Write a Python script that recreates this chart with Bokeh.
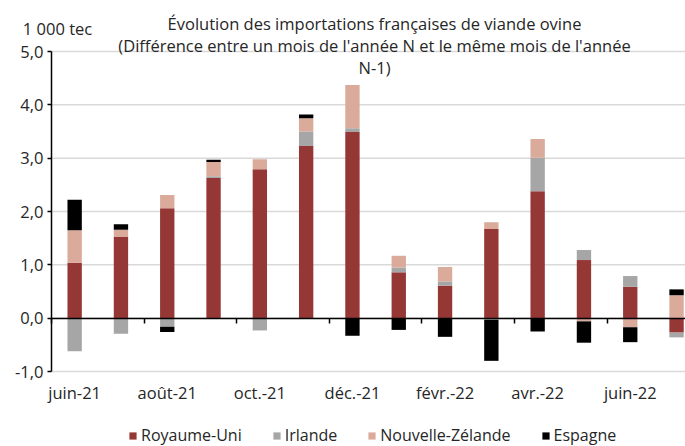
import numpy as np
from bokeh.plotting import figure
from bokeh.models import Range1d, FixedTicker, LinearAxis, Label, Legend, LegendItem
from bokeh.embed import file_html
from bokeh.resources import INLINE

months = ["juin-21", "juil.-21", "août-21", "sept.-21", "oct.-21", "nov.-21", "déc.-21",
          "janv.-22", "févr.-22", "mars-22", "avr.-22", "mai-22", "juin-22", "juil.-22"]
royaume_uni = [1.04, 1.52, 2.06, 2.63, 2.79, 3.23, 3.49, 0.86, 0.61, 1.67, 2.38, 1.09, 0.59, -0.27]
irlande = [-0.62, -0.29, -0.16, 0.03, -0.23, 0.27, 0.07, 0.09, 0.08, -0.03, 0.63, 0.19, 0.20, -0.09]
nouvelle_zelande = [0.61, 0.14, 0.25, 0.27, 0.19, 0.25, 0.81, 0.22, 0.27, 0.13, 0.35, -0.06, -0.17, 0.43]
espagne = [0.57, 0.10, -0.10, 0.04, 0.0, 0.07, -0.33, -0.22, -0.35, -0.77, -0.25, -0.40, -0.28, 0.11]

series_names = ["Royaume-Uni", "Irlande", "Nouvelle-Zélande", "Espagne"]
series_values = [royaume_uni, irlande, nouvelle_zelande, espagne]
colors = ["#953735", "#A6A6A6", "#DAAA9B", "#000000"]

y_ticks = [-1, 0, 1, 2, 3, 4, 5]
y_tick_labels = ["-1,0", "0,0", "1,0", "2,0", "3,0", "4,0", "5,0"]
label_every = 2

title_lines = ["Évolution des importations françaises de viande ovine",
               "(Différence entre un mois de l'année N et le même mois de l'année",
               "N-1)"]
unit_label = "1 000 tec"

FONT = "Open Sans"
FS = "16.5px"
FS_LEG = "16px"
TXT = "#262626"

n = len(months)
x = np.arange(n)
y_min, y_max = y_ticks[0], y_ticks[-1]

# layout: whole canvas is the frame; axes are pinned inside it
W, H = 685, 446
ax_left_px, frame_right_px = 51, 685          # where category -0.5 sits / frame end
y_top_px, y_bot_px = 51, 371                  # pixels of y=5 and y=-1
px_per_cat = 46.3
px_per_unit = (y_bot_px - y_top_px) / (y_max - y_min)
x_lo = -0.5 - ax_left_px / px_per_cat
x_hi = -0.5 + (frame_right_px - ax_left_px) / px_per_cat
y_hi = y_max + y_top_px / px_per_unit
y_lo = y_min - (H - y_bot_px) / px_per_unit

p = figure(width=W, height=H, output_backend="svg", toolbar_location=None,
           x_range=Range1d(x_lo, x_hi), y_range=Range1d(y_lo, y_hi),
           x_axis_location=None, y_axis_location=None,
           min_border_left=0, min_border_right=0, min_border_top=0, min_border_bottom=0)
p.outline_line_color = None
p.grid.visible = False

# horizontal gridlines from the y-axis to the right edge
p.segment(x0=-0.5, x1=x_hi, y0=y_ticks, y1=y_ticks, line_color="#D9D9D9",
          line_width=1.5, level="underlay")

# stacked bars (positives up, negatives down)
pos_base = np.zeros(n)
neg_base = np.zeros(n)
renderers = []
for name, vals, col in zip(series_names, series_values, colors):
    v = np.array(vals, dtype=float)
    bottom = np.where(v >= 0, pos_base, neg_base)
    top = bottom + v
    r = p.vbar(x=x, width=0.31, bottom=bottom, top=top, fill_color=col, line_color=None)
    renderers.append(r)
    pos_base = np.where(v >= 0, pos_base + v, pos_base)
    neg_base = np.where(v < 0, neg_base + v, neg_base)

# y axis pinned at the left edge of the categories
ya = LinearAxis(fixed_location=-0.5, bounds=(y_min, y_max), ticker=FixedTicker(ticks=y_ticks))
ya.major_label_overrides = {t: l for t, l in zip(y_ticks, y_tick_labels)}
ya.major_tick_in = 0
ya.major_tick_out = 4
ya.minor_tick_out = 0
ya.minor_tick_in = 0
ya.axis_line_width = 1.5
ya.axis_line_color = "black"
ya.major_tick_line_color = "black"
ya.major_tick_line_width = 1.5
ya.major_label_standoff = 4
ya.major_label_text_font = FONT
ya.major_label_text_font_size = FS
ya.major_label_text_color = TXT
p.add_layout(ya, "left")

# category labels under the plot (at y = -1)
label_pos = list(range(0, n, label_every))
xa = LinearAxis(fixed_location=y_min, ticker=FixedTicker(ticks=label_pos))
xa.major_label_overrides = {i: months[i] for i in label_pos}
xa.axis_line_color = None
xa.major_tick_line_color = None
xa.minor_tick_line_color = None
xa.major_label_standoff = 3
xa.major_label_text_font = FONT
xa.major_label_text_font_size = FS
xa.major_label_text_color = TXT
p.add_layout(xa, "below")

# zero line with tick marks between pairs of categories
boundaries = [i - 0.5 for i in range(0, n + 1, label_every)]
za = LinearAxis(fixed_location=0, bounds=(-0.5, x_hi),
                ticker=FixedTicker(ticks=[], minor_ticks=boundaries))
za.axis_line_color = "black"
za.axis_line_width = 1.5
za.major_label_text_font_size = "0px"
za.minor_tick_in = 0
za.minor_tick_out = 5
za.minor_tick_line_color = "black"
za.minor_tick_line_width = 1.5
p.add_layout(za, "below")

# titles (screen units relative to the frame = canvas)
for txt, yy in zip(title_lines, [H - 23, H - 45, H - 67]):
    p.add_layout(Label(x=374, y=yy, x_units="screen", y_units="screen", text=txt,
                       text_align="center", text_baseline="middle",
                       text_font=FONT, text_font_size=FS, text_color=TXT))
p.add_layout(Label(x=57, y=H - 28, x_units="screen", y_units="screen", text=unit_label,
                   text_align="center", text_baseline="middle",
                   text_font=FONT, text_font_size=FS, text_color=TXT))

legend = Legend(items=[LegendItem(label=nm, renderers=[r]) for nm, r in zip(series_names, renderers)],
                orientation="horizontal", location=(128, 0),
                border_line_color=None, background_fill_alpha=0,
                glyph_width=9, glyph_height=9, label_standoff=4, spacing=30,
                padding=0, margin=0,
                label_text_font=FONT, label_text_font_size=FS_LEG, label_text_color=TXT)
p.add_layout(legend)

open("out.html", "w").write(file_html(p, INLINE))
